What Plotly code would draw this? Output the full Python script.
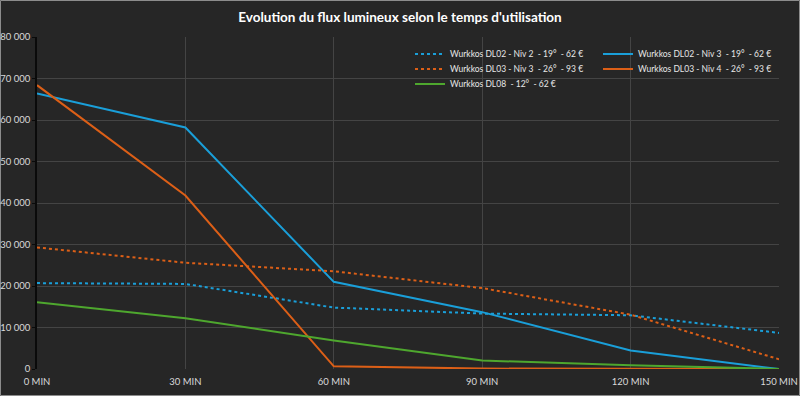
import plotly.graph_objects as go

categories = ["0 MIN", "30 MIN", "60 MIN", "90 MIN", "120 MIN", "150 MIN"]

dl02_niv2 = [20700, 20500, 14800, 13350, 12950, 8700]
dl02_niv3 = [66400, 58200, 21000, 13700, 4450, 0]
dl03_niv3 = [29300, 25600, 23550, 19500, 13100, 2350]
dl03_niv4 = [68400, 41800, 650, 100, 50, 0]
dl08 = [16100, 12250, 6850, 2050, 900, 0]

y_tickvals = [0, 10000, 20000, 30000, 40000, 50000, 60000, 70000, 80000]
y_ticktext = ["0", "10 000", "20 000", "30 000", "40 000", "50 000", "60 000", "70 000", "80 000"]

names = [
    "Wurkkos DL02 - Niv 2  - 19°  - 62 €",
    "Wurkkos DL02 - Niv 3  - 19°  - 62 €",
    "Wurkkos DL03 - Niv 3  - 26°  - 93 €",
    "Wurkkos DL03 - Niv 4  - 26°  - 93 €",
    "Wurkkos DL08  - 12°  - 62 €",
]

BLUE = "#1A9FD9"
ORANGE = "#DC5F17"
GREEN = "#4EA72E"
FONT = "Lato, sans-serif"

fig = go.Figure()
series = [
    (dl02_niv2, names[0], BLUE, "dot", "legend"),
    (dl02_niv3, names[1], BLUE, "solid", "legend"),
    (dl03_niv3, names[2], ORANGE, "dot", "legend2"),
    (dl03_niv4, names[3], ORANGE, "solid", "legend2"),
    (dl08, names[4], GREEN, "solid", "legend3"),
]
for vals, name, color, dash, leg in series:
    fig.add_trace(go.Scatter(
        x=categories, y=vals, name=name, mode="lines",
        line=dict(color=color, width=2, dash=dash),
        legend=leg,
    ))

W, H = 800, 396
ml, mr, mt, mb = 37, 21, 37, 27
pw = W - ml - mr
ph = H - mt - mb

def px_x(p):
    return (p - ml) / pw

def px_y(p):
    return 1 - (p - mt) / ph

legstyle = dict(
    orientation="h", xanchor="left", yanchor="middle",
    bgcolor="rgba(0,0,0,0)", font=dict(family=FONT, size=8.5, color="#E6E6E6"),
    entrywidth=143, entrywidthmode="pixels", itemwidth=30, tracegroupgap=0,
)
fig.update_layout(
    width=W, height=H,
    margin=dict(l=ml, r=mr, t=mt, b=mb, autoexpand=False),
    paper_bgcolor="#262626", plot_bgcolor="#262626",
    font=dict(family=FONT, color="#D9D9D9", size=9.5),
    title=dict(text="<b>Evolution du flux lumineux selon le temps d'utilisation</b>",
               x=0.5, xanchor="center", y=1 - 17 / H, yanchor="middle",
               font=dict(family=FONT, size=13.5, color="#FFFFFF")),
    legend=dict(legstyle, x=px_x(410), y=px_y(54)),
    legend2=dict(legstyle, x=px_x(410), y=px_y(69)),
    legend3=dict(legstyle, x=px_x(410), y=px_y(84)),
    xaxis=dict(
        type="category", range=[0, len(categories) - 1],
        showgrid=True, gridcolor="#444444", gridwidth=1,
        showline=False, zeroline=False, automargin=False,
        tickfont=dict(size=9.5, color="#D9D9D9"), ticks="", ticklabelstandoff=5,
    ),
    yaxis=dict(
        range=[0, 80000], tickvals=y_tickvals, ticktext=y_ticktext,
        showgrid=True, gridcolor="#444444", gridwidth=1,
        showline=True, linecolor="#0A0A0A", linewidth=1.5,
        ticks="outside", ticklen=3, tickcolor="#0A0A0A", automargin=False,
        zeroline=False, tickfont=dict(size=9.5, color="#D9D9D9"),
    ),
    shapes=[dict(type="rect", xref="paper", yref="paper",
                 x0=px_x(0.5), x1=px_x(W - 0.5), y0=px_y(H - 0.5), y1=px_y(0.5),
                 line=dict(color="#8C8C8C", width=1), layer="below")],
)

fig.write_html("out.html", config={"displayModeBar": False},
               post_script="document.body.style.margin='0';document.body.style.overflow='hidden';")
